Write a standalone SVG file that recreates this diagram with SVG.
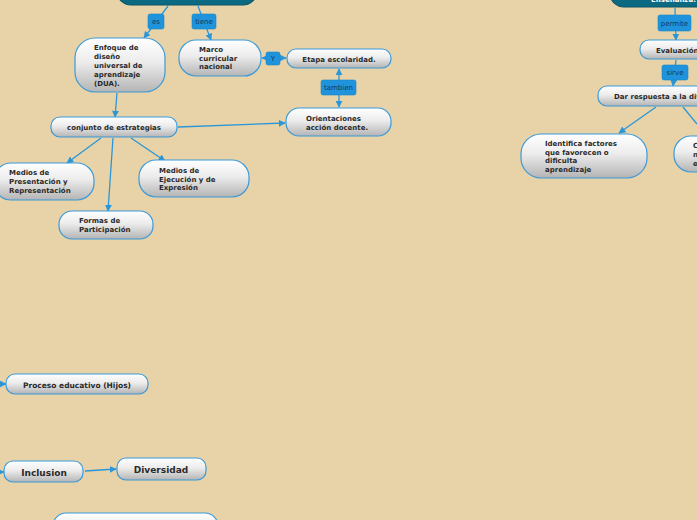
<svg xmlns="http://www.w3.org/2000/svg" width="697" height="520" viewBox="0 0 697 520">
<defs>
<linearGradient id="g" x1="0" y1="0" x2="0" y2="1">
<stop offset="0" stop-color="#ffffff"/>
<stop offset="0.45" stop-color="#ececec"/>
<stop offset="1" stop-color="#b4b4b4"/>
</linearGradient>
<marker id="ah" viewBox="0 0 10 10" refX="9" refY="5" markerWidth="7" markerHeight="7" orient="auto-start-reverse" markerUnits="userSpaceOnUse">
<path d="M0,0 L10,5 L0,10 z" fill="#2a96d8"/>
</marker>
<style>
.n{fill:url(#g);stroke:#3a9ad9;stroke-width:1.2}
.d{fill:#0b6a82;stroke:#0a5568;stroke-width:1.2}
.t{font-family:"DejaVu Sans",Verdana,sans-serif;font-weight:bold;font-size:7px;fill:#2a2a2a}
.tl{font-family:"DejaVu Sans",Verdana,sans-serif;font-weight:bold;font-size:9px;fill:#2a2a2a}
.lb{fill:#1f94dc;stroke:#1a86c9;stroke-width:0.6}
.lt{font-family:"DejaVu Sans",Verdana,sans-serif;font-size:7px;fill:#15395a}
.c{fill:none;stroke:#2a96d8;stroke-width:1.3}
.a{marker-end:url(#ah)}
.b{marker-start:url(#ah);marker-end:url(#ah)}
</style>
</defs>
<rect width="697" height="520" fill="#e8d3a8"/>

<g id="connectors">
<path class="c a" d="M168,6 L144,38"/>
<path class="c a" d="M198,6 L211,40"/>
<path class="c b" d="M262,58 L286,58"/>
<path class="c b" d="M339,69 L339,107"/>
<path class="c a" d="M117,93 L115,117"/>
<path class="c a" d="M178,127 L285,123"/>
<path class="c a" d="M101,138 L67,163"/>
<path class="c a" d="M113,138 L108,211"/>
<path class="c a" d="M131,138 L165,161"/>
<path class="c a" d="M675,8 L676,40"/>
<path class="c a" d="M676,60 L673,86"/>
<path class="c a" d="M656,107 L619,133"/>
<path class="c" d="M683,107 L697,124"/>
<path class="c a" d="M-2,384 L6,384"/>
<path class="c a" d="M-2,472 L4,472"/>
<path class="c a" d="M85,471 L116,469"/>
</g>

<g id="n-top-left"><rect class="d" x="117" y="-30" width="140" height="35" rx="14"/></g>
<g id="n-top-right"><rect class="d" x="610" y="-30" width="110" height="37" rx="14"/>
<text class="t" x="651" y="1.5" style="fill:#ffffff">Enseñanza.</text></g>

<g id="l-es"><rect class="lb" x="148" y="14" width="16" height="15" rx="2"/><text class="lt" x="156" y="24" text-anchor="middle">es</text></g>
<g id="l-tiene"><rect class="lb" x="192" y="14" width="24" height="15" rx="2"/><text class="lt" x="204" y="24" text-anchor="middle">tiene</text></g>

<g id="n-enfoque"><rect class="n" x="75" y="38" width="90" height="54" rx="20"/>
<text class="t"><tspan x="94" y="50">Enfoque de</tspan><tspan x="94" y="59">diseño</tspan><tspan x="94" y="68">universal de</tspan><tspan x="94" y="77">aprendizaje</tspan><tspan x="94" y="86">(DUA).</tspan></text></g>

<g id="n-marco"><rect class="n" x="179" y="40" width="82" height="36" rx="17"/>
<text class="t"><tspan x="199" y="52">Marco</tspan><tspan x="199" y="61">curricular</tspan><tspan x="199" y="69">nacional</tspan></text></g>

<g id="l-y"><rect class="lb" x="266" y="52" width="14" height="13" rx="2"/><text class="lt" x="273" y="61" text-anchor="middle">Y</text></g>

<g id="n-etapa"><rect class="n" x="287" y="49" width="104" height="19" rx="9"/>
<text class="t" x="339" y="61.5" text-anchor="middle">Etapa escolaridad.</text></g>

<g id="l-tambien"><rect class="lb" x="321" y="80" width="35" height="15" rx="2"/><text class="lt" x="338.5" y="90" text-anchor="middle">tambien</text></g>

<g id="n-orientaciones"><rect class="n" x="286" y="108" width="105" height="28" rx="13"/>
<text class="t"><tspan x="306" y="121">Orientaciones</tspan><tspan x="306" y="130">acción  docente.</tspan></text></g>

<g id="n-conjunto"><rect class="n" x="51" y="117" width="126" height="20" rx="9"/>
<text class="t" x="114" y="130" text-anchor="middle">conjunto de estrategias</text></g>

<g id="n-presentacion"><rect class="n" x="-6" y="163" width="100" height="37" rx="17"/>
<text class="t"><tspan x="9" y="175">Medios de</tspan><tspan x="9" y="184">Presentación y</tspan><tspan x="9" y="193">Representación</tspan></text></g>

<g id="n-ejecucion"><rect class="n" x="139" y="160" width="110" height="37" rx="17"/>
<text class="t"><tspan x="159" y="173">Medios de</tspan><tspan x="159" y="182">Ejecución y de</tspan><tspan x="159" y="190">Expresión</tspan></text></g>

<g id="n-formas"><rect class="n" x="59" y="211" width="94" height="28" rx="13"/>
<text class="t"><tspan x="79" y="223">Formas de</tspan><tspan x="79" y="232">Participación</tspan></text></g>

<g id="l-permite"><rect class="lb" x="658" y="15" width="33" height="16" rx="2"/><text class="lt" x="674.5" y="26" text-anchor="middle">permite</text></g>

<g id="n-evaluacion"><rect class="n" x="640" y="40" width="80" height="19" rx="9"/>
<text class="t" x="656" y="52.5">Evaluación</text></g>

<g id="l-sirve"><rect class="lb" x="662" y="65" width="26" height="15" rx="2"/><text class="lt" x="675" y="75" text-anchor="middle">sirve</text></g>

<g id="n-dar"><rect class="n" x="598" y="86" width="120" height="20" rx="9"/>
<text class="t" x="614" y="99">Dar respuesta a la diversidad</text></g>

<g id="n-identifica"><rect class="n" x="521" y="134" width="126" height="44" rx="20"/>
<text class="t"><tspan x="545" y="146">Identifica factores</tspan><tspan x="545" y="155">que favorecen o</tspan><tspan x="545" y="163">dificulta</tspan><tspan x="545" y="172">aprendizaje</tspan></text></g>

<g id="n-right-clipped"><rect class="n" x="674" y="136" width="60" height="36" rx="17"/>
<text class="t"><tspan x="693" y="148">Conoce</tspan><tspan x="693" y="157">necesidades</tspan><tspan x="693" y="166">educativas</tspan></text></g>

<g id="n-proceso"><rect class="n" x="6" y="374" width="142" height="20" rx="9"/>
<text class="t" x="77" y="387.5" text-anchor="middle" style="font-size:7.5px">Proceso educativo (Hijos)</text></g>

<g id="n-inclusion"><rect class="n" x="4" y="461" width="79" height="21" rx="9"/>
<text class="tl" x="44" y="475.5" text-anchor="middle">Inclusion</text></g>

<g id="n-diversidad"><rect class="n" x="117" y="458" width="89" height="22" rx="9"/>
<text class="tl" x="161" y="472.5" text-anchor="middle">Diversidad</text></g>

<g id="n-bottom"><rect class="n" x="53" y="513" width="165" height="30" rx="13"/></g>
</svg>
